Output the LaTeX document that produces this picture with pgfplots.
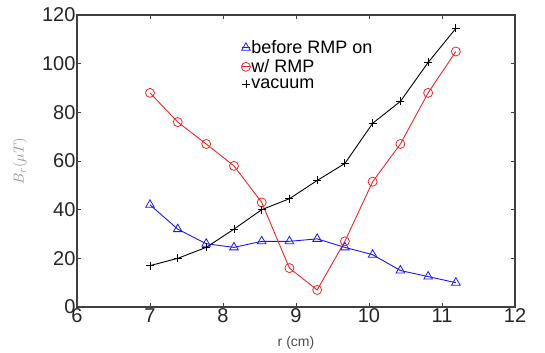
\documentclass[border=0pt]{standalone}
\usepackage{fontspec}
\setmainfont{Liberation Sans}
\usepackage{pgfplots}
\pgfplotsset{compat=1.18}
\definecolor{mblue}{rgb}{0.1,0.1,0.95}
\definecolor{mred}{rgb}{0.95,0.15,0.15}
\definecolor{axgray}{rgb}{0.25,0.25,0.25}
\begin{document}
\begin{tikzpicture}
\begin{axis}[
  scale only axis, width=438pt, height=292pt,
  xmin=6, xmax=12, ymin=0, ymax=120,
  xtick={6,7,...,12}, ytick={0,20,...,120},
  tick align=inside, major tick length=4pt,
  axis line style={axgray, line width=1.3pt},
  every tick/.style={axgray, line width=1pt},
  tick label style={font=\fontsize{20}{22}\selectfont, text=black!85},
  xticklabel style={yshift=2pt},
  yticklabel style={xshift=2pt},
  /pgf/number format/assume math mode=true,
  xlabel={r (cm)}, xlabel style={font=\fontsize{14}{15}\selectfont, text=black!70, yshift=-7pt},
  ylabel={$B_r(\mu T)$}, ylabel style={font=\fontsize{15}{16}\selectfont, text=black!45, yshift=8pt},
  legend style={draw=none, fill=none, at={(axis cs:8.25,110)}, anchor=north west,
    font=\fontsize{18}{19}\selectfont, row sep=2.5pt, inner sep=0pt,
    nodes={inner sep=1pt}},
  legend cell align=left,
  legend image code/.code={\draw[mark repeat=2,mark phase=2] plot coordinates {(-4pt,0pt)(0pt,0pt)(4pt,0pt)};},
]
\addplot[mblue, line width=0.9pt, mark=triangle, mark size=5pt, mark options={line width=0.8pt}] coordinates {
(7.00,42) (7.38,32) (7.77,26) (8.15,24.5) (8.53,27) (8.91,27) (9.29,28) (9.67,24.5) (10.05,21.5) (10.43,15) (10.81,12.5) (11.19,10)};
\addlegendentry{before RMP on}
\addplot[mred, line width=0.9pt, mark=o, mark size=4.5pt, mark options={line width=0.8pt}] coordinates {
(7.00,88) (7.38,76) (7.77,67) (8.15,58) (8.53,43) (8.91,16) (9.29,7) (9.67,27) (10.05,51.5) (10.43,67) (10.81,88) (11.19,105)};
\addlegendentry{w/ RMP}
\addplot[black, line width=0.9pt, mark=+, mark size=4pt, mark options={line width=0.9pt}] coordinates {
(7.00,17) (7.38,20) (7.77,24.5) (8.15,32) (8.53,40) (8.91,44.5) (9.29,52) (9.67,59) (10.05,75.5) (10.43,84.5) (10.81,100.5) (11.19,114.5)};
\addlegendentry{vacuum}
\end{axis}
\useasboundingbox (-77pt,-41pt) rectangle (468pt,307pt);
\end{tikzpicture}
\end{document}
